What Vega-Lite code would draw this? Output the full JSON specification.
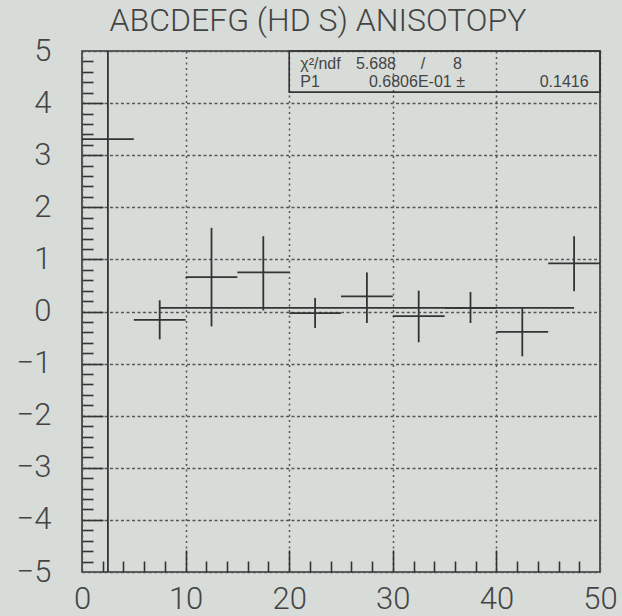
{
  "$schema": "https://vega.github.io/schema/vega-lite/v6.json",
  "autosize": "none",
  "width": 518,
  "height": 521,
  "padding": {"left": 82, "top": 51, "right": 22, "bottom": 44},
  "background": "#d8dcd9",
  "title": {
    "text": "ABCDEFG (HD S) ANISOTOPY",
    "font": "Roboto",
    "fontWeight": 300,
    "fontSize": 32,
    "color": "#444444",
    "anchor": "middle",
    "frame": "group",
    "dx": -23,
    "offset": -3
  },
  "config": {
    "view": {"stroke": "#333333", "strokeWidth": 1.6, "fill": "#d8dcd9"},
    "axis": {"domain": false, "labelFlush": false, "labelOverlap": false, "labelBound": false}
  },
  "datasets": {
    "bins": [
      {"xc": 2.5, "xlo": 0, "xhi": 5, "yc": 3.31, "ylo": -6, "yhi": 12},
      {"xc": 7.5, "xlo": 5, "xhi": 10, "yc": -0.16, "ylo": -0.535, "yhi": 0.215},
      {"xc": 12.5, "xlo": 10, "xhi": 15, "yc": 0.66, "ylo": -0.285, "yhi": 1.605},
      {"xc": 17.5, "xlo": 15, "xhi": 20, "yc": 0.75, "ylo": 0.02, "yhi": 1.445},
      {"xc": 22.5, "xlo": 20, "xhi": 25, "yc": -0.03, "ylo": -0.315, "yhi": 0.26},
      {"xc": 27.5, "xlo": 25, "xhi": 30, "yc": 0.29, "ylo": -0.22, "yhi": 0.75},
      {"xc": 32.5, "xlo": 30, "xhi": 35, "yc": -0.09, "ylo": -0.59, "yhi": 0.40},
      {"xc": 37.5, "xlo": 35, "xhi": 40, "yc": 0.07, "ylo": -0.22, "yhi": 0.375},
      {"xc": 42.5, "xlo": 40, "xhi": 45, "yc": -0.39, "ylo": -0.86, "yhi": 0.07},
      {"xc": 47.5, "xlo": 45, "xhi": 50, "yc": 0.925, "ylo": 0.39, "yhi": 1.445}
    ],
    "fit": [{"fx": 7.5, "fx2": 47.5, "fy": 0.06806}],
    "box": [{"bx": 20, "bx2": 50, "by": 4.21, "by2": 5}],
    "statsLeft": [
      {"tx": 21.07, "ty": 4.655, "label": "χ²/ndf"},
      {"tx": 26.44, "ty": 4.655, "label": "5.688"},
      {"tx": 32.7, "ty": 4.655, "label": "/"},
      {"tx": 35.8, "ty": 4.655, "label": "8"},
      {"tx": 21.07, "ty": 4.305, "label": "P1"},
      {"tx": 27.7, "ty": 4.305, "label": "0.6806E-01 ±"}
    ],
    "statsRight": [
      {"tx": 48.9, "ty": 4.305, "label": "0.1416"}
    ]
  },
  "layer": [
    {
      "data": {"name": "bins"},
      "mark": {"type": "rule", "color": "#333333", "strokeWidth": 1.8, "clip": true},
      "encoding": {
        "x": {
          "field": "xlo", "type": "quantitative",
          "scale": {"domain": [0, 50], "nice": false, "zero": false},
          "axis": {
            "orient": "bottom", "title": null, "values": [0, 10, 20, 30, 40, 50],
            "ticks": false, "tickSize": 0, "labelPadding": 12,
            "labelFont": "Roboto", "labelFontWeight": 300, "labelFontSize": 31, "labelColor": "#444444",
            "labelBaseline": "top",
            "grid": true, "gridColor": "#555555", "gridWidth": 1.5, "gridDash": [2, 3.5]
          }
        },
        "x2": {"field": "xhi"},
        "y": {
          "field": "yc", "type": "quantitative",
          "scale": {"domain": [-5, 5], "nice": false, "zero": false},
          "axis": {
            "orient": "left", "title": null, "values": [-5, -4, -3, -2, -1, 0, 1, 2, 3, 4, 5],
            "ticks": false, "tickSize": 0, "labelPadding": 31,
            "labelFont": "Roboto", "labelFontWeight": 300, "labelFontSize": 31, "labelColor": "#444444",
            "labelAlign": "right", "labelBaseline": "middle",
            "grid": true, "gridColor": "#555555", "gridWidth": 1.5, "gridDash": [3, 2.5]
          }
        }
      }
    },
    {
      "data": {"name": "bins"},
      "mark": {"type": "rule", "color": "#333333", "strokeWidth": 1.8, "clip": true},
      "encoding": {
        "x": {
          "field": "xc", "type": "quantitative",
          "axis": {
            "orient": "bottom", "title": null, "values": [10, 20, 30, 40],
            "labels": false, "grid": false, "ticks": true, "tickSize": -22,
            "tickColor": "#333333", "tickWidth": 1.6
          }
        },
        "y": {
          "field": "ylo", "type": "quantitative",
          "axis": {
            "orient": "left", "title": null, "values": [-4, -3, -2, -1, 0, 1, 2, 3, 4],
            "labels": false, "grid": false, "ticks": true, "tickSize": -21,
            "tickColor": "#333333", "tickWidth": 1.6
          }
        },
        "y2": {"field": "yhi"}
      }
    },
    {
      "data": {"name": "fit"},
      "mark": {"type": "rule", "color": "#333333", "strokeWidth": 1.8},
      "encoding": {
        "x": {
          "field": "fx", "type": "quantitative",
          "axis": {
            "orient": "bottom", "title": null,
            "values": [2, 4, 6, 8, 12, 14, 16, 18, 22, 24, 26, 28, 32, 34, 36, 38, 42, 44, 46, 48],
            "labels": false, "grid": false, "ticks": true, "tickSize": -11,
            "tickColor": "#333333", "tickWidth": 1.6
          }
        },
        "x2": {"field": "fx2"},
        "y": {
          "field": "fy", "type": "quantitative",
          "axis": {
            "orient": "left", "title": null,
            "values": [-4.8, -4.6, -4.4, -4.2, -3.8, -3.6, -3.4, -3.2, -2.8, -2.6, -2.4, -2.2, -1.8, -1.6, -1.4, -1.2, -0.8, -0.6, -0.4, -0.2, 0.2, 0.4, 0.6, 0.8, 1.2, 1.4, 1.6, 1.8, 2.2, 2.4, 2.6, 2.8, 3.2, 3.4, 3.6, 3.8, 4.2, 4.4, 4.6, 4.8],
            "labels": false, "grid": false, "ticks": true, "tickSize": -11,
            "tickColor": "#333333", "tickWidth": 1.6
          }
        }
      }
    },
    {
      "data": {"name": "box"},
      "mark": {"type": "rect", "fill": null, "filled": false, "stroke": "#333333", "strokeWidth": 1.6},
      "encoding": {
        "x": {"field": "bx", "type": "quantitative", "axis": null},
        "x2": {"field": "bx2"},
        "y": {"field": "by", "type": "quantitative", "axis": null},
        "y2": {"field": "by2"}
      }
    },
    {
      "data": {"name": "statsLeft"},
      "mark": {"type": "text", "font": "Liberation Sans", "fontSize": 16, "color": "#444444", "align": "left", "baseline": "alphabetic"},
      "encoding": {
        "x": {"field": "tx", "type": "quantitative", "axis": null},
        "y": {"field": "ty", "type": "quantitative", "axis": null},
        "text": {"field": "label"}
      }
    },
    {
      "data": {"name": "statsRight"},
      "mark": {"type": "text", "font": "Liberation Sans", "fontSize": 16, "color": "#444444", "align": "right", "baseline": "alphabetic"},
      "encoding": {
        "x": {"field": "tx", "type": "quantitative", "axis": null},
        "y": {"field": "ty", "type": "quantitative", "axis": null},
        "text": {"field": "label"}
      }
    }
  ],
  "resolve": {"axis": {"x": "independent", "y": "independent"}}
}
